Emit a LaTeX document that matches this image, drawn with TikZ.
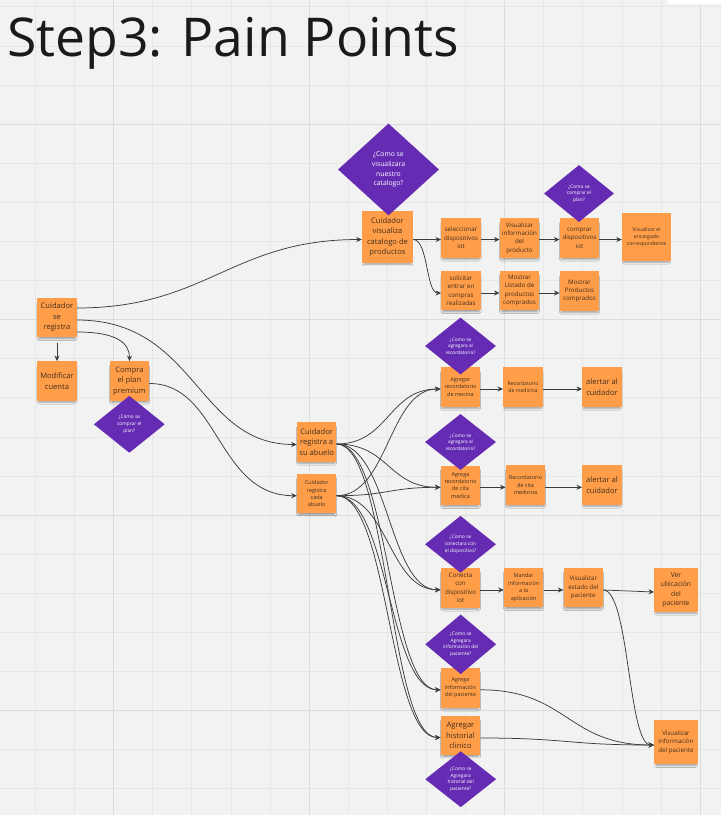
\documentclass[tikz,border=0pt]{standalone}
\usepackage{fontspec}
\setmainfont{Open Sans}
\usetikzlibrary{shapes.geometric,arrows.meta,calc,shadows.blur}
\definecolor{bg}{HTML}{F2F2F2}
\definecolor{gridminor}{HTML}{E7E7E7}
\definecolor{gridmajor}{HTML}{DCDCDC}
\definecolor{noteor}{HTML}{FF9D48}
\definecolor{notetext}{HTML}{40301F}
\definecolor{dpurple}{HTML}{652CB3}
\definecolor{linec}{HTML}{3C3C3C}
\definecolor{titlec}{HTML}{1A1A1A}
\tikzset{
  note/.style={fill=noteor, minimum width=39.5pt, minimum height=39.5pt, inner sep=0.5pt,
    align=center, text=notetext,
    blur shadow={shadow xshift=0pt, shadow yshift=-3.5pt, shadow scale=0.92, shadow opacity=35, shadow blur radius=2pt}},
  big/.style={font=\fontsize{7.6}{10.5}\selectfont},
  mid/.style={font=\fontsize{6.2}{8.4}\selectfont},
  sml/.style={font=\fontsize{5.5}{7.4}\selectfont},
  tiny/.style={font=\fontsize{5.1}{7.2}\selectfont},
  dia/.style={diamond, fill=dpurple, text=white, inner sep=0pt, align=center,
    minimum width=71pt, minimum height=57pt, font=\fontsize{4.8}{6.6}\selectfont},
  conn/.style={draw=linec, line width=0.75pt, -{Stealth[length=5.5pt,width=5pt]}},
}
\begin{document}
\begin{tikzpicture}[x=1pt,y=-1pt]
\fill[bg] (0,0) rectangle (721,815);
\useasboundingbox (0,0) rectangle (721,815);
% grid
\foreach \k in {-2,...,15} \draw[gridminor,line width=0.6pt] ({113.5+39.1*\k},0) -- ({113.5+39.1*\k},815);
\foreach \k in {-3,...,17} \draw[gridminor,line width=0.6pt] (0,{124+39.1*\k}) -- (721,{124+39.1*\k});
\foreach \k in {0,5,10,15} {
  \draw[gridmajor,line width=0.9pt] ({113.5+39.1*\k},0) -- ({113.5+39.1*\k},815);
  \draw[gridmajor,line width=0.9pt] (0,{124+39.1*\k}) -- (721,{124+39.1*\k});
}
\fill[white, rounded corners=3pt] (667,-8) rectangle (730,4);
% title
\node[anchor=base west, inner sep=0, font=\fontsize{53.5}{60}\selectfont, text=titlec] (title) at (7,56.5) {Step3: Pain Points};

% notes
\node[note,big] (reg) at (57,317.5) {Cuidador\\se\\registra};
\node[note,big] (mod) at (57,381) {Modificar\\cuenta};
\node[note,big] (compra) at (129.5,381) {Compra\\el plan\\premium};
\node[note,big,minimum width=51pt,minimum height=52pt] (cat) at (387.5,237) {Cuidador\\visualiza\\catalogo de\\productos};
\node[note,mid] (sel) at (461,238) {seleccionar\\dispositivos\\iot};
\node[note,mid] (visprod) at (519.5,238) {Visualizar\\información\\del\\producto};
\node[note,mid] (comprar) at (579.5,238) {comprar\\dispositivos\\iot};
\node[note,tiny,minimum width=49pt,minimum height=48pt] (enc) at (646.5,237) {Visualizar el\\encargado\\correspondiente};
\node[note,mid] (sol) at (461,290.5) {solicitar\\entrar en\\compras\\realizadas};
\node[note,mid] (mlist) at (519.5,290.5) {Mostrar\\Listado de\\productos\\comprados};
\node[note,mid] (mprod) at (579.5,291) {Mostrar\\Productos\\comprados};
\node[note,sml] (agrec) at (460.5,387) {Agregar\\recordatorio\\de mecina};
\node[note,tiny] (recmed) at (523,387) {Recordatorio\\de medicina};
\node[note,big] (alert1) at (602,387) {alertar al\\cuidador};
\node[note,big] (abuelo) at (316.7,442) {Cuidador\\registra a\\su abuelo};
\node[note,sml] (cada) at (316.7,493.7) {Cuidador\\registra\\cada\\abuelo};
\node[note,sml] (agcita) at (460.5,485.3) {Agrega\\recordatorio\\de cita\\medica};
\node[note,sml] (reccita) at (525.5,485) {Recordatorio\\de cita\\medicina};
\node[note,big] (alert2) at (602,485) {alertar al\\cuidador};
\node[note,mid] (con) at (460.5,587.8) {Conecta\\con\\dispositivo\\iot};
\node[note,sml] (mandar) at (523.7,587.5) {Mandar\\información\\a la\\aplicación};
\node[note,mid] (visest) at (583.3,587.5) {Visualizar\\estado del\\paciente};
\node[note,big,font=\fontsize{6.8}{9.3}\selectfont,minimum width=43.5pt,minimum height=43.5pt] (ubic) at (676,590) {Ver\\ubicación\\del\\paciente};
\node[note,sml] (aginfo) at (460.5,687.8) {Agrega\\información\\del paciente};
\node[note,big] (hist) at (460.5,735.5) {Agregar\\historial\\clinico};
\node[note,mid,minimum width=43.5pt,minimum height=44pt] (visinfo) at (676,742) {Visualizar\\información\\del paciente};

% diamonds
\node[dia] (dcompra) at (129.3,424.3) {¿Como se\\comprar el\\plan?};
\node[dia,minimum width=101pt,minimum height=92pt,font=\fontsize{6.8}{9.7}\selectfont] (dcat) at (388.5,169.5) {¿Como se\\visualizara\\nuestro\\catalogo?};
\node[dia,minimum width=70pt] (dcomprar) at (579,193.5) {¿Como se\\comprar el\\plan?};
\node[dia] (drec1) at (460.5,346) {¿Como se\\agregara al\\recordatorio?};
\node[dia,minimum height=56pt] (drec2) at (460.5,442) {¿Como se\\agregara al\\recordatorio?};
\node[dia] (dcon) at (460.5,544.3) {¿Como se\\conectara con\\el dispositivo?};
\node[dia] (dinfo) at (460.7,644.3) {¿Como se\\Agregara\\información del\\paciente?};
\node[dia,minimum height=56pt] (dhist) at (460.7,779.2) {¿Como se\\Agregara\\historial del\\paciente?};

% connectors
\draw[conn, shorten <=6pt] (reg.south) -- (mod.north);
\draw[conn] ($(reg.east)+(0,14.5)$) .. controls +(40,0) and +(0,-18) .. (compra.north);
\draw[conn] ($(reg.east)+(0,-9.5)$) .. controls +(130,0) and +(-130,0) .. ($(cat.west)+(0,2.5)$);
\draw[conn] ($(reg.east)+(0,2.5)$) .. controls +(120,0) and +(-100,0) .. ($(abuelo.west)+(0,2.5)$);
\draw[conn] ($(compra.east)+(0,2.5)$) .. controls +(70,0) and +(-80,0) .. ($(cada.west)+(0,2)$);

\draw[conn] ($(cat.east)+(0,2.5)$) -- ($(sel.west)+(0,1.5)$);
\draw[conn] ($(cat.east)+(0,2.5)$) .. controls +(15,0) and +(-15,0) .. ($(sol.west)+(0,2.5)$);
\draw[conn] ($(sel.east)+(0,1.5)$) -- ($(visprod.west)+(0,1.5)$);
\draw[conn] ($(visprod.east)+(0,1.5)$) -- ($(comprar.west)+(0,1.5)$);
\draw[conn] ($(comprar.east)+(0,1.5)$) -- ($(enc.west)+(0,2.5)$);
\draw[conn] ($(sol.east)+(0,2.5)$) -- ($(mlist.west)+(0,2.5)$);
\draw[conn] ($(mlist.east)+(0,2.5)$) -- ($(mprod.west)+(0,2)$);

\foreach \s in {abuelo,cada} {
  \foreach \t in {agrec,agcita,con,aginfo,hist} {
    \draw[conn] ($(\s.east)+(0,2)$) .. controls +(52,0) and +(-52,0) .. ($(\t.west)+(0,2)$);
  }
}
\draw[conn] ($(agrec.east)+(0,2)$) -- ($(recmed.west)+(0,2)$);
\draw[conn] ($(recmed.east)+(0,2)$) -- ($(alert1.west)+(0,2)$);
\draw[conn] ($(agcita.east)+(0,2)$) -- ($(reccita.west)+(0,2.3)$);
\draw[conn] ($(reccita.east)+(0,2.3)$) -- ($(alert2.west)+(0,2.3)$);
\draw[conn] ($(con.east)+(0,2.2)$) -- ($(mandar.west)+(0,2.5)$);
\draw[conn] ($(mandar.east)+(0,2.5)$) -- ($(visest.west)+(0,2.5)$);
\draw[conn] ($(visest.east)+(0,2.5)$) -- ($(ubic.west)+(0,2)$);
\draw[conn] ($(visest.east)+(0,2.5)$) .. controls +(26,0) and +(-26,0) .. ($(visinfo.west)+(0,3)$);
\draw[conn] ($(aginfo.east)+(0,2)$) .. controls +(87,0) and +(-87,0) .. ($(visinfo.west)+(0,3)$);
\draw[conn] ($(hist.east)+(0,2.5)$) .. controls +(87,0) and +(-87,0) .. ($(visinfo.west)+(0,3)$);
\end{tikzpicture}
\end{document}
